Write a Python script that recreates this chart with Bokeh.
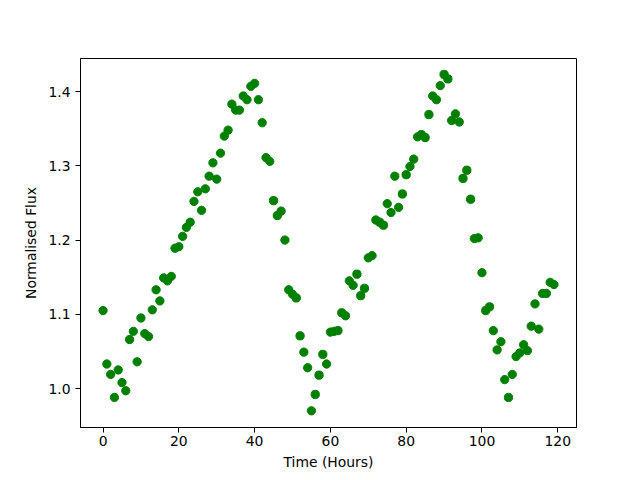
from bokeh.plotting import figure
from bokeh.models import Range1d, FixedTicker, PrintfTickFormatter, ColumnDataSource
from bokeh.embed import file_html
from bokeh.resources import INLINE

hours = [0, 1, 2, 3, 4, 5, 6, 7, 8, 9, 10, 11, 12, 13, 14, 15, 16, 17, 18, 19,
         20, 21, 22, 23, 24, 25, 26, 27, 28, 29, 30, 31, 32, 33, 34, 35, 36, 37, 38, 39,
         40, 41, 42, 43, 44, 45, 46, 47, 48, 49, 50, 51, 52, 53, 54, 55, 56, 57, 58, 59,
         60, 61, 62, 63, 64, 65, 66, 67, 68, 69, 70, 71, 72, 73, 74, 75, 76, 77, 78, 79,
         80, 81, 82, 83, 84, 85, 86, 87, 88, 89, 90, 91, 92, 93, 94, 95, 96, 97, 98, 99,
         100, 101, 102, 103, 104, 105, 106, 107, 108, 109, 110, 111, 112, 113, 114, 115, 116, 117, 118, 119]

flux = [1.105, 1.033, 1.019, 0.988, 1.025, 1.008, 0.997, 1.066, 1.077, 1.036,
        1.095, 1.074, 1.070, 1.106, 1.133, 1.118, 1.149, 1.145, 1.151, 1.189,
        1.191, 1.205, 1.217, 1.224, 1.252, 1.265, 1.240, 1.269, 1.286, 1.304,
        1.282, 1.317, 1.340, 1.348, 1.383, 1.375, 1.375, 1.394, 1.389, 1.407,
        1.411, 1.389, 1.358, 1.311, 1.306, 1.253, 1.233, 1.239, 1.200, 1.133,
        1.127, 1.122, 1.071, 1.049, 1.028, 0.970, 0.992, 1.018, 1.046, 1.033,
        1.076, 1.077, 1.078, 1.102, 1.098, 1.145, 1.139, 1.154, 1.125, 1.135,
        1.176, 1.179, 1.227, 1.224, 1.220, 1.249, 1.237, 1.286, 1.244, 1.262,
        1.288, 1.299, 1.309, 1.339, 1.342, 1.338, 1.369, 1.394, 1.389, 1.408,
        1.423, 1.417, 1.361, 1.370, 1.359, 1.283, 1.294, 1.255, 1.202, 1.203,
        1.156, 1.105, 1.110, 1.078, 1.052, 1.063, 1.012, 0.988, 1.019, 1.043,
        1.048, 1.059, 1.051, 1.084, 1.114, 1.080, 1.128, 1.128, 1.143, 1.140]

x_ticks = [0, 20, 40, 60, 80, 100, 120]
y_ticks = [1.0, 1.1, 1.2, 1.3, 1.4]

src = ColumnDataSource(data=dict(x=hours, y=flux))

p = figure(frame_width=496, frame_height=369,
           x_range=Range1d(-5.95, 124.95), y_range=Range1d(0.9475, 1.4445),
           output_backend="svg", toolbar_location=None,
           min_border_left=80, min_border_right=56, min_border_top=58, min_border_bottom=45)

p.scatter("x", "y", source=src, size=8.3, fill_color="#008000", line_color="#008000")

p.xgrid.visible = False
p.ygrid.visible = False
p.outline_line_color = "black"
p.outline_line_alpha = 1
p.outline_line_width = 1

p.xaxis.ticker = FixedTicker(ticks=x_ticks)
p.yaxis.ticker = FixedTicker(ticks=y_ticks)
p.yaxis.formatter = PrintfTickFormatter(format="%.1f")
p.xaxis.axis_label = "Time (Hours)"
p.yaxis.axis_label = "Normalised Flux"

for ax in (p.xaxis[0], p.yaxis[0]):
    ax.axis_line_color = "black"
    ax.major_tick_line_color = "black"
    ax.major_tick_in = 0
    ax.major_tick_out = 5
    ax.minor_tick_line_color = None
    ax.major_label_text_font = "DejaVu Sans"
    ax.major_label_text_font_size = "13.9px"
    ax.major_label_text_color = "black"
    ax.axis_label_text_font = "DejaVu Sans"
    ax.axis_label_text_font_size = "13.9px"
    ax.axis_label_text_font_style = "normal"
    ax.axis_label_text_color = "black"
    ax.major_label_standoff = 5
    ax.axis_label_standoff = 6

p.xaxis[0].major_label_standoff = 3
p.xaxis[0].axis_label_standoff = 5

html = file_html(p, INLINE)
with open("out.html", "w") as f:
    f.write(html)
